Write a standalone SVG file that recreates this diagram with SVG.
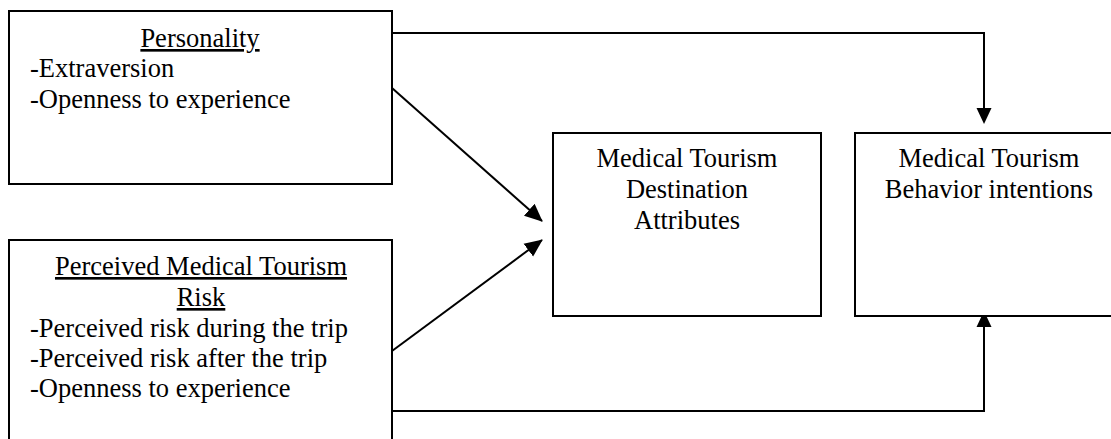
<svg xmlns="http://www.w3.org/2000/svg" width="1111" height="439" viewBox="0 0 1111 439">
<defs>
<style>
.box{fill:#fff;stroke:#000;stroke-width:2}
.t{font-family:"Liberation Serif","Times New Roman",serif;font-size:26.5px;fill:#000}
.c{text-anchor:middle}
.u{text-decoration:underline}
.ln{fill:none;stroke:#000;stroke-width:2}
</style>
<marker id="ah" markerWidth="18" markerHeight="18" viewBox="0 0 18 18" refX="17" refY="9" orient="auto" markerUnits="userSpaceOnUse">
<path d="M0,1 L18,9 L0,17 Z" fill="#000"/>
</marker>
</defs>
<rect width="1111" height="439" fill="#fff"/>
<g id="connectors">
<polyline class="ln" points="392,33 984,33 984,109"/>
<path d="M976.5,108 L991.5,108 L984,124 Z" fill="#000"/>
<polyline class="ln" points="392,411 984,411 984,326"/>
<path d="M976.5,327 L991.5,327 L984,311 Z" fill="#000"/>
<line class="ln" x1="392" y1="88" x2="542" y2="221" marker-end="url(#ah)"/>
<line class="ln" x1="392" y1="351" x2="542" y2="240" marker-end="url(#ah)"/>
</g>
<g id="personality">
<rect class="box" x="9" y="11" width="383" height="173"/>
<text class="t c u" x="200" y="47">Personality</text>
<text class="t" x="30" y="77">-Extraversion</text>
<text class="t" x="30" y="108">-Openness to experience</text>
</g>
<g id="risk">
<rect class="box" x="9" y="240" width="383" height="220"/>
<text class="t c u" x="201" y="275">Perceived Medical Tourism</text>
<text class="t c u" x="201" y="306">Risk</text>
<text class="t" x="30" y="337">-Perceived risk during the trip</text>
<text class="t" x="30" y="367">-Perceived risk after the trip</text>
<text class="t" x="30" y="397">-Openness to experience</text>
</g>
<g id="destination">
<rect class="box" x="553" y="133" width="268" height="183"/>
<text class="t c" x="687" y="167">Medical Tourism</text>
<text class="t c" x="687" y="198">Destination</text>
<text class="t c" x="687" y="229">Attributes</text>
</g>
<g id="behavior">
<rect class="box" x="855" y="133" width="270" height="183"/>
<text class="t c" x="989" y="167">Medical Tourism</text>
<text class="t c" x="989" y="198">Behavior intentions</text>
</g>
</svg>
